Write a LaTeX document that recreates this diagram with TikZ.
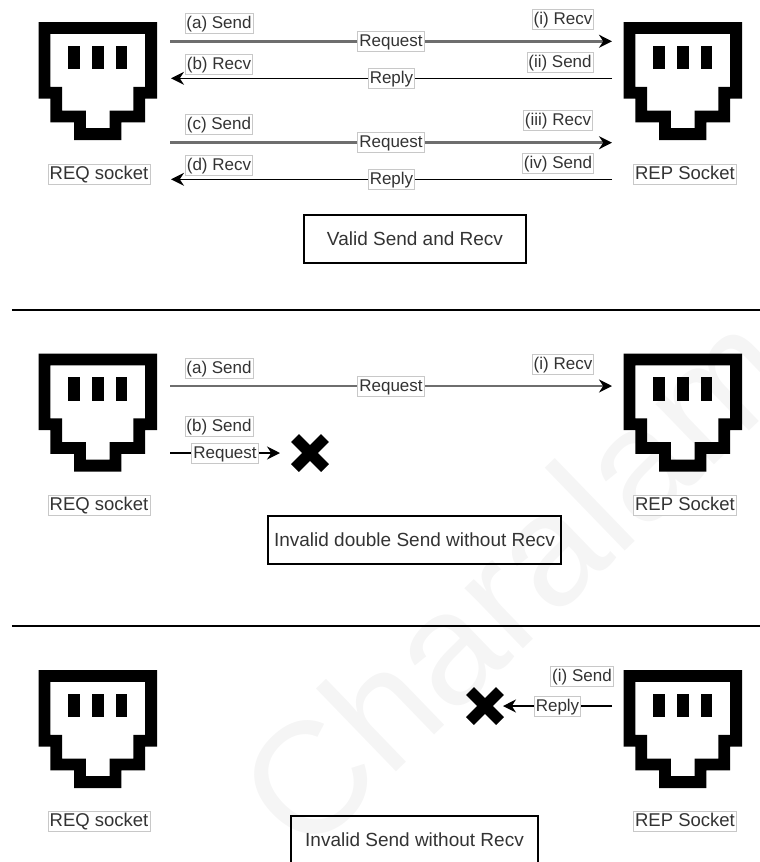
\documentclass[tikz,border=0pt]{standalone}
\usepackage{fontspec}
\setmainfont{Liberation Sans}
\usetikzlibrary{calc,arrows.meta,positioning}
\definecolor{inkGrey}{RGB}{51,51,51}
\definecolor{frameGrey}{RGB}{200,200,200}
\definecolor{wireGrey}{RGB}{110,110,110}
\definecolor{markGrey}{RGB}{245,245,245}
\tikzset{
  tag/.style={draw=frameGrey,fill=white,line width=.7pt,text=inkGrey,inner xsep=1.5pt,inner ysep=1pt,text height=14pt,text depth=4pt,font=\fontsize{17}{19}\selectfont},
  socketTag/.style={tag,font=\fontsize{18.5}{20}\selectfont},
  caption/.style={draw=black,line width=1.2pt,text=inkGrey,minimum height=48pt,inner sep=0pt,font=\fontsize{19}{22}\selectfont},
  thickWire/.style={draw=wireGrey,line width=3.2pt},
  thinWire/.style={draw=black,line width=1.4pt},
  tipEnd/.style={-{Stealth[black,length=13pt,width=13pt]}},
  socketSpot/.style={minimum width=118.5pt,minimum height=118pt,inner sep=0pt,anchor=north west},
  cross/.style={draw=black,line width=11pt}
}
% socket icon on a grid of ten cells
\newcommand{\socketicon}[2]{
\begin{scope}[shift={(#1,#2)},x=11.85pt,y=-11.8pt]
\fill[even odd rule] (0,0) -- (10,0) -- (10,6.5) -- (9,6.5) -- (9,8.5) -- (7,8.5) -- (7,10) -- (3,10) -- (3,8.5) -- (1,8.5) -- (1,6.5) -- (0,6.5) -- cycle
 (1,1) -- (9,1) -- (9,5.5) -- (8,5.5) -- (8,7.5) -- (6,7.5) -- (6,9) -- (4,9) -- (4,7.5) -- (2,7.5) -- (2,5.5) -- (1,5.5) -- cycle;
\foreach \barx in {2.5,4.5,6.5}
  \fill (\barx,2) rectangle (\barx+1,4);
\end{scope}}
\begin{document}
\begin{tikzpicture}[x=1pt,y=-1pt]
\useasboundingbox (0,0) rectangle (760,862);
\begin{scope}
\clip (0,0) rectangle (760,862);

% faint mark behind everything
\node[rotate=44,text=markGrey,font=\fontsize{159}{159}\selectfont] (mark) at (514,579) {Charalam};

% top panel
\socketicon{38.5}{22}
\socketicon{623.5}{22}
\node[socketSpot] (reqTop) at (38.5,22) {};
\node[socketSpot] (repTop) at (623.5,22) {};
\node[socketTag] (reqTopTag) at (99,174) {REQ socket};
\node[socketTag] (repTopTag) at (685,174) {REP Socket};

\coordinate (sendA) at (170,41.3);
\coordinate (recvA) at (612,41.3);
\coordinate (sendB) at (612,78.3);
\coordinate (recvB) at (171,78.3);
\coordinate (sendC) at (170,142.7);
\coordinate (recvC) at (612,142.7);
\coordinate (sendD) at (612,179.3);
\coordinate (recvD) at (171,179.3);
\draw[thickWire,tipEnd] (sendA) -- node[tag] (reqA) {Request} (recvA);
\draw[thinWire,tipEnd] (sendB) -- node[tag] (repB) {Reply} (recvB);
\draw[thickWire,tipEnd] (sendC) -- node[tag] (reqC) {Request} (recvC);
\draw[thinWire,tipEnd] (sendD) -- node[tag] (repD) {Reply} (recvD);

\node[tag] (tagA) at (219,23) {(a) Send};
\node[tag] (tagB) at (219,64) {(b) Recv};
\node[tag] (tagC) at (219,124) {(c) Send};
\node[tag] (tagD) at (219,165) {(d) Recv};
\node[tag] (tagI) at (563,19) {(i) Recv};
\node[tag] (tagII) at (560,62) {(ii) Send};
\node[tag] (tagIII) at (558,120) {(iii) Recv};
\node[tag] (tagIV) at (558,163) {(iv) Send};

\node[caption,minimum width=222pt] (validBox) at (415,239) {Valid Send and Recv};

\node[minimum width=748pt,minimum height=0pt,inner sep=0pt] (ruleOne) at (386,310) {};
\draw[line width=1.2pt] (ruleOne.west) -- (ruleOne.east);

% double send
\socketicon{38.5}{353.5}
\socketicon{623.5}{353.5}
\node[socketSpot] (reqMid) at (38.5,353.5) {};
\node[socketSpot] (repMid) at (623.5,353.5) {};
\node[socketTag] (reqMidTag) at (99,505) {REQ socket};
\node[socketTag] (repMidTag) at (685,505) {REP Socket};

\coordinate (sendE) at (170,386);
\coordinate (recvE) at (612,386);
\coordinate (sendF) at (170,453);
\coordinate (stopF) at (280,453);
\draw[thickWire,line width=2.4pt,tipEnd] (sendE) -- node[tag] (reqE) {Request} (recvE);
\draw[thinWire,tipEnd] (sendF) -- node[tag] (reqF) {Request} (stopF);

\node[tag] (tagE) at (219,368) {(a) Send};
\node[tag] (tagF) at (219,426) {(b) Send};
\node[tag] (tagEr) at (563,364) {(i) Recv};

\coordinate (crossF) at (310,453);
\draw[cross] ($(crossF)+(-15,-15)$) -- ($(crossF)+(15,15)$);
\draw[cross] ($(crossF)+(-15,15)$) -- ($(crossF)+(15,-15)$);

\node[caption,minimum width=293pt] (doubleBox) at (414.5,540) {Invalid double Send without Recv};

\node[minimum width=748pt,minimum height=0pt,inner sep=0pt] (ruleTwo) at (386,626) {};
\draw[line width=1.2pt] (ruleTwo.west) -- (ruleTwo.east);

% lone reply
\socketicon{38.5}{670}
\socketicon{623.5}{670}
\node[socketSpot] (reqLow) at (38.5,670) {};
\node[socketSpot] (repLow) at (623.5,670) {};
\node[socketTag] (reqLowTag) at (99,821) {REQ socket};
\node[socketTag] (repLowTag) at (685,821) {REP Socket};

\coordinate (sendG) at (612,706);
\coordinate (stopG) at (503,706);
\draw[thinWire,tipEnd] (sendG) -- node[tag] (repG) {Reply} (stopG);
\node[tag] (tagG) at (582,676) {(i) Send};

\coordinate (crossG) at (485,706);
\draw[cross] ($(crossG)+(-15,-15)$) -- ($(crossG)+(15,15)$);
\draw[cross] ($(crossG)+(-15,15)$) -- ($(crossG)+(15,-15)$);

\node[caption,minimum width=247pt] (loneBox) at (414.5,840) {Invalid Send without Recv};
\end{scope}
\end{tikzpicture}
\end{document}
